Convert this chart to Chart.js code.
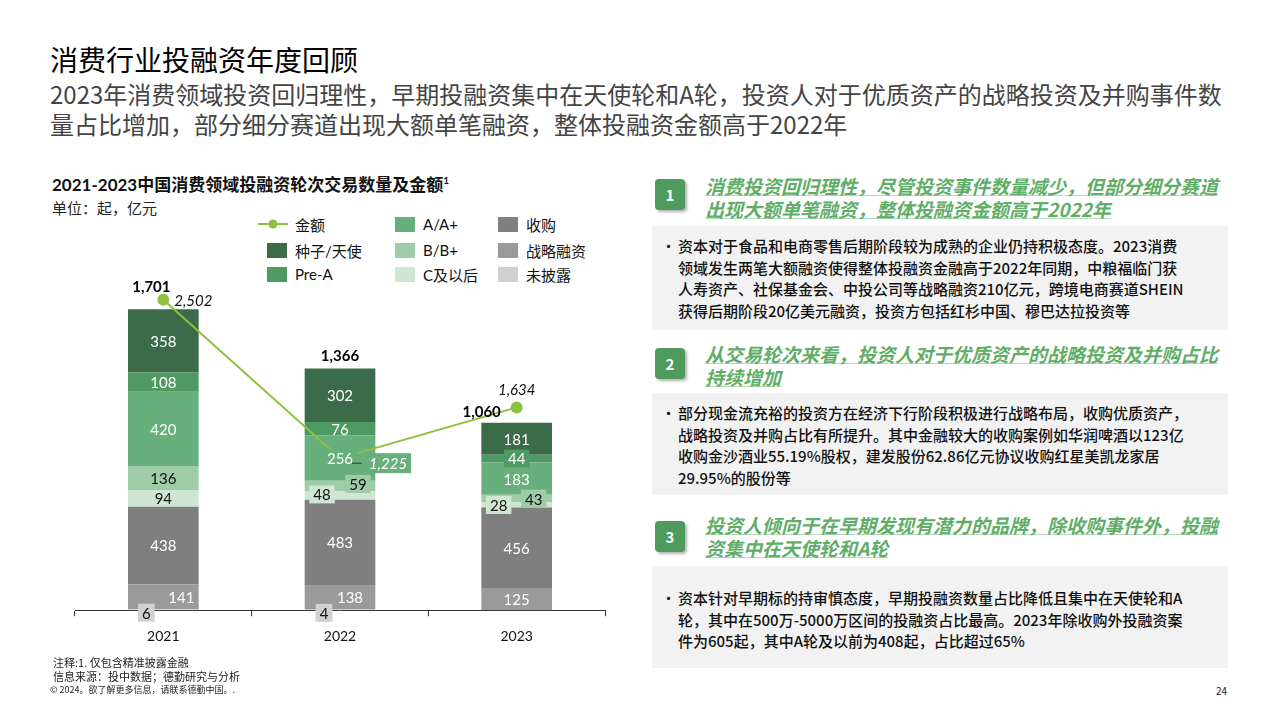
<!DOCTYPE html>
<html>
<head>
<meta charset="utf-8">
<script src="https://cdn.jsdelivr.net/npm/chart.js@4"></script>
<style>
  body { margin: 0; width: 1280px; height: 720px; position: relative; background: #fff;
         font-family: "Noto Sans CJK SC", sans-serif; overflow: hidden; }
  .abs { position: absolute; }
  #title { left: 50px; top: 39px; font-size: 28px; color: #000; }
  #sub { left: 50px; top: 79px; font-size: 24px; line-height: 30px; color: #444; width: 1220px; white-space: nowrap; }
  #ctitle { left: 52px; top: 171px; font-size: 17px; font-weight: bold; color: #111; font-family: Lato, "Noto Sans CJK SC"; }
  #ctitle sup { font-size: 10px; }
  #unit { left: 52px; top: 197px; font-size: 15px; color: #222; }
  #wrap { left: 40px; top: 280px; width: 580px; height: 381px; }
  .lg { font-size: 15px; color: #111; display: flex; align-items: center; font-family: Lato, "Noto Sans CJK SC"; }
  .lg .sw { width: 20px; height: 15px; margin-right: 8px; }
  .num { width: 30px; height: 31px; border-radius: 4px; background: #4f9a5d; color: #fff; font-weight: bold;
         font-size: 15px; display: flex; align-items: center; justify-content: center; box-shadow: 2px 2px 3px rgba(0,0,0,0.3); }
  .head { left: 705px; width: 540px; font-size: 19px; line-height: 23px; font-style: italic; font-weight: bold;
          color: #5fae68; white-space: nowrap; text-decoration: underline; text-decoration-color: #b5d9b9; text-decoration-thickness: 1px; }
  .panel { left: 652px; width: 576px; background: #f2f2f2; }
  .panel p { margin: 0; position: absolute; left: 26px; width: 545px; font-size: 15px; line-height: 21.7px; color: #111;
             font-weight: 500; white-space: nowrap; }
  .panel .bul { position: absolute; left: 9px; font-size: 15px; line-height: 21.7px; color: #111; }
  .foot { left: 53px; font-size: 11px; color: #222; }
</style>
</head>
<body>
<div id="title" class="abs">消费行业投融资年度回顾</div>
<div id="sub" class="abs">2023年消费领域投资回归理性，早期投融资集中在天使轮和A轮，投资人对于优质资产的战略投资及并购事件数<br>量占比增加，部分细分赛道出现大额单笔融资，整体投融资金额高于2022年</div>

<div id="ctitle" class="abs">2021-2023中国消费领域投融资轮次交易数量及金额<sup>1</sup></div>
<div id="unit" class="abs">单位：起，亿元</div>
<div id="legend"></div>

<div id="wrap" class="abs"><canvas id="chart"></canvas></div>

<div class="abs num" style="left:655px;top:179px;">1</div>
<div class="abs head" style="top:174px;">消费投资回归理性，尽管投资事件数量减少，但部分细分赛道<br>出现大额单笔融资，整体投融资金额高于2022年</div>
<div class="abs panel" style="top:226px;height:104px;">
  <span class="bul" style="top:9px;">•</span>
  <p style="top:9px;">资本对于食品和电商零售后期阶段较为成熟的企业仍持积极态度。2023消费<br>领域发生两笔大额融资使得整体投融资金融高于2022年同期，中粮福临门获<br>人寿资产、社保基金会、中投公司等战略融资210亿元，跨境电商赛道SHEIN<br>获得后期阶段20亿美元融资，投资方包括红杉中国、穆巴达拉投资等</p>
</div>

<div class="abs num" style="left:655px;top:348px;">2</div>
<div class="abs head" style="top:342px;">从交易轮次来看，投资人对于优质资产的战略投资及并购占比<br>持续增加</div>
<div class="abs panel" style="top:393px;height:102px;">
  <span class="bul" style="top:9px;">•</span>
  <p style="top:9px;">部分现金流充裕的投资方在经济下行阶段积极进行战略布局，收购优质资产，<br>战略投资及并购占比有所提升。其中金融较大的收购案例如华润啤酒以123亿<br>收购金沙酒业55.19%股权，建发股份62.86亿元协议收购红星美凯龙家居<br>29.95%的股份等</p>
</div>

<div class="abs num" style="left:655px;top:521px;">3</div>
<div class="abs head" style="top:513px;">投资人倾向于在早期发现有潜力的品牌，除收购事件外，投融<br>资集中在天使轮和A轮</div>
<div class="abs panel" style="top:566px;height:102px;">
  <span class="bul" style="top:21px;">•</span>
  <p style="top:21px;">资本针对早期标的持审慎态度，早期投融资数量占比降低且集中在天使轮和A<br>轮，其中在500万-5000万区间的投融资占比最高。2023年除收购外投融资案<br>件为605起，其中A轮及以前为408起，占比超过65%</p>
</div>

<div class="abs foot" style="top:654px;">注释:1. 仅包含精准披露金融</div>
<div class="abs foot" style="top:668px;">信息来源：投中数据；德勤研究与分析</div>
<div class="abs foot" style="top:683px;font-size:9px;left:50px;">© 2024。欲了解更多信息，请联系德勤中国。.</div>
<div class="abs" style="left:1216px;top:683px;font-size:10px;color:#222;">24</div>

<script>
// chart data
const years = ['2021', '2022', '2023'];
const seedAngel = [358, 302, 181];
const preA = [108, 76, 44];
const roundA = [420, 256, 183];
const roundB = [136, 59, 43];
const roundC = [94, 48, 28];
const acquisition = [438, 483, 456];
const strategic = [141, 138, 125];
const undisclosed = [6, 4, 0];
const amount = [2502, 1225, 1634];

const fontFam = 'Lato, "Noto Sans CJK SC", sans-serif';

// bottom-up stacking order
const bars = [
  { label: '未披露', data: undisclosed, color: '#d0d0d0', text: '#111' },
  { label: '战略融资', data: strategic, color: '#9a9a9a', text: '#fff' },
  { label: '收购', data: acquisition, color: '#7f7f7f', text: '#fff' },
  { label: 'C及以后', data: roundC, color: '#cfe6d3', text: '#111' },
  { label: 'B/B+', data: roundB, color: '#9dcca7', text: '#111' },
  { label: 'A/A+', data: roundA, color: '#68b07b', text: '#fff' },
  { label: 'Pre-A', data: preA, color: '#4f9a62', text: '#fff' },
  { label: '种子/天使', data: seedAngel, color: '#3b6b48', text: '#fff' }
];
const lineColor = '#8cc23f';

// label nudges, keyed "bar label|year index": dx, dy, boxed
const nudge = {
  '未披露|0': { dx: -17, dy: 3, box: true }, '未披露|1': { dx: -16, dy: 3, box: true },
  '战略融资|0': { dx: 18 }, '战略融资|1': { dx: 10 },
  'C及以后|1': { dx: -18, dy: -1, box: true }, 'B/B+|1': { dx: 18, dy: -2, box: true },
  'C及以后|2': { dx: -18, box: true }, 'B/B+|2': { dx: 17, box: true },
  'A/A+|1': { box: true }, 'Pre-A|2': { box: true }
};
const totalPos = [{ dx: -12, dy: -22 }, { dx: 0, dy: -12 }, { dx: -35, dy: -11 }];
const amountPos = [{ dx: 30, dy: 0 }, { dx: 48, dy: 5, box: true }, { dx: 0, dy: -18 }];

// html legend, column-major like the source
const legendCols = [
  [{ label: '金额', line: true }, '种子/天使', 'Pre-A'],
  ['A/A+', 'B/B+', 'C及以后'],
  ['收购', '战略融资', '未披露']
];
const legendX = [258, 386, 489];
const legendY = [224, 250, 274];
const legendEl = document.getElementById('legend');
legendCols.forEach(function (col, c) {
  col.forEach(function (item, r) {
    const div = document.createElement('div');
    div.className = 'abs lg';
    div.style.left = legendX[c] + 'px';
    div.style.top = (legendY[r] - 10) + 'px';
    div.style.height = '20px';
    if (item.line) {
      div.innerHTML = '<svg width="30" height="12" style="margin-right:7px"><line x1="0" y1="6" x2="30" y2="6" stroke="' + lineColor + '" stroke-width="2"/><circle cx="15" cy="6" r="4.5" fill="' + lineColor + '"/></svg>' + item.label;
    } else {
      const b = bars.find(function (d) { return d.label === item; });
      div.innerHTML = '<span class="sw" style="background:' + b.color + ';margin-left:9px"></span>' + item;
    }
    legendEl.appendChild(div);
  });
});

const labelPlugin = {
  id: 'segLabels',
  afterDatasetsDraw: function (chart) {
    const ctx = chart.ctx;
    ctx.save();
    ctx.textAlign = 'center';
    ctx.textBaseline = 'middle';
    ctx.font = '15px ' + fontFam;
    bars.forEach(function (b, di) {
      const meta = chart.getDatasetMeta(di);
      meta.data.forEach(function (el, i) {
        const v = b.data[i];
        if (!v) return;
        const n = nudge[b.label + '|' + i] || {};
        const x = el.x + (n.dx || 0);
        const y = (el.y + el.base) / 2 + (n.dy || 0);
        const txt = String(v);
        if (n.box) {
          const w = ctx.measureText(txt).width + 8;
          ctx.fillStyle = b.color;
          ctx.fillRect(x - w / 2, y - 9, w, 18);
        }
        ctx.fillStyle = b.text;
        ctx.fillText(txt, x, y + 1);
      });
    });
    // totals above bars
    const topMeta = chart.getDatasetMeta(bars.length - 1);
    ctx.font = 'bold 15px ' + fontFam;
    ctx.fillStyle = '#000';
    years.forEach(function (y, i) {
      const total = bars.reduce(function (s, b) { return s + b.data[i]; }, 0);
      const el = topMeta.data[i];
      ctx.fillText(total.toLocaleString('en-US'), el.x + totalPos[i].dx, el.y + totalPos[i].dy);
    });
    // amount labels
    const lineMeta = chart.getDatasetMeta(bars.length);
    ctx.font = 'italic 15px ' + fontFam;
    lineMeta.data.forEach(function (pt, i) {
      const p = amountPos[i];
      const txt = amount[i].toLocaleString('en-US');
      const x = pt.x + p.dx, y = pt.y + p.dy;
      if (p.box) {
        const w = ctx.measureText(txt).width + 8;
        ctx.strokeStyle = '#333';
        ctx.lineWidth = 1;
        ctx.beginPath();
        ctx.moveTo(x - w / 2 - 13, y);
        ctx.lineTo(x - w / 2 - 3, y);
        ctx.stroke();
        ctx.fillStyle = '#68b07b';
        ctx.fillRect(x - w / 2, y - 10, w, 20);
        ctx.fillStyle = '#fff';
      } else {
        ctx.fillStyle = '#111';
      }
      ctx.fillText(txt, x, y + 1);
    });
    ctx.restore();
  }
};

const datasets = bars.map(function (b) {
  return {
    type: 'bar', label: b.label, data: b.data, backgroundColor: b.color,
    borderWidth: 0, yAxisID: 'y', order: 2,
    categoryPercentage: 1, barPercentage: 0.4
  };
});
datasets.push({
  type: 'line', label: '金额', data: amount, yAxisID: 'y1', order: 0,
  borderColor: lineColor, backgroundColor: lineColor, borderWidth: 2,
  pointRadius: 5, pointHoverRadius: 5, tension: 0
});

new Chart(document.getElementById('chart'), {
  data: { labels: years, datasets: datasets },
  plugins: [labelPlugin],
  options: {
    responsive: true,
    maintainAspectRatio: false,
    animation: false,
    layout: { padding: { left: 35, right: 15, top: 10, bottom: 4 } },
    plugins: { legend: { display: false }, tooltip: { enabled: false } },
    scales: {
      x: {
        stacked: true,
        grid: { offset: true, drawOnChartArea: false, drawTicks: true, tickLength: 6, color: '#333' },
        border: { display: true, color: '#333', width: 1 },
        ticks: { color: '#111', font: { family: fontFam, size: 14 }, padding: 12 }
      },
      y: { stacked: true, display: false, min: 0, max: 1810 },
      y1: { stacked: false, display: false, min: 0, max: 2580 }
    }
  }
});
</script>
</body>
</html>
